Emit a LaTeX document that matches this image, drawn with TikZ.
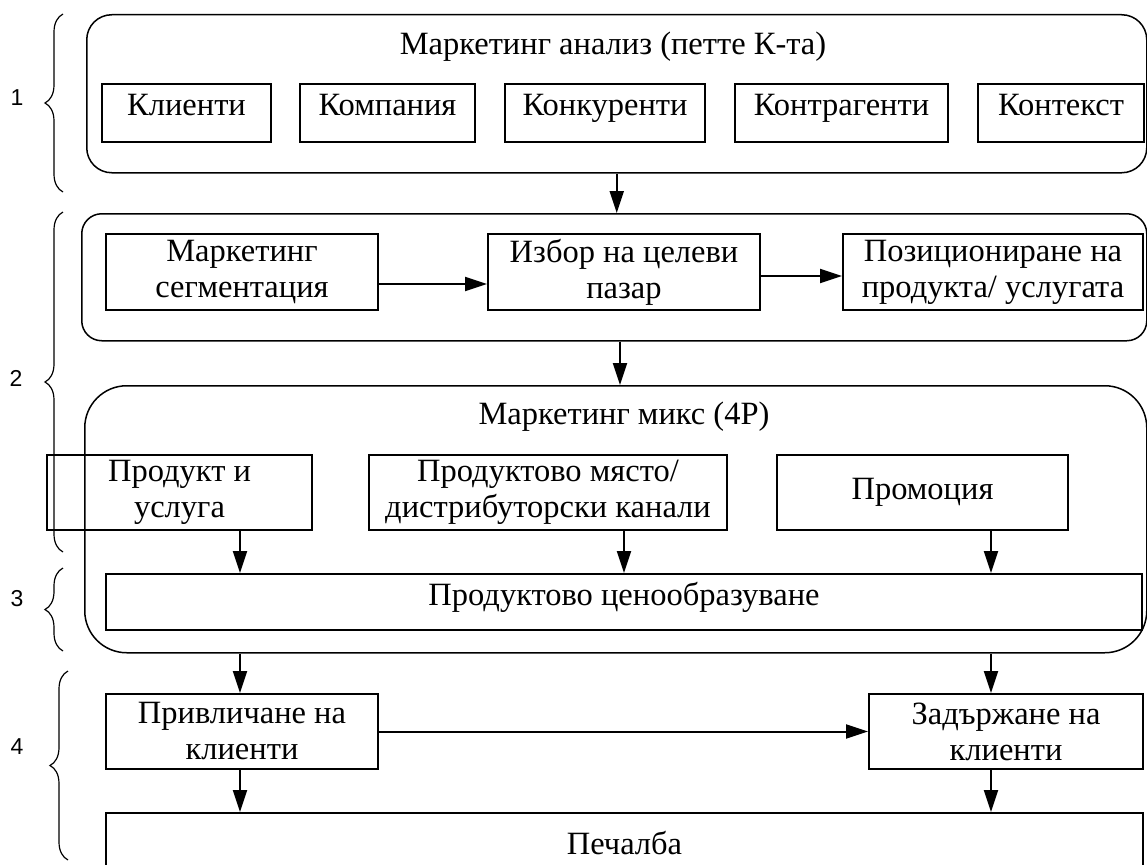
\documentclass[tikz,border=0pt]{standalone}
\usepackage{fontspec}
\setmainfont{Liberation Serif}
\newfontfamily\numfont{Liberation Sans}
\usetikzlibrary{arrows.meta, positioning, decorations.pathreplacing}

\tikzset{
  box/.style={draw, line width=2pt, inner sep=0pt, align=center, anchor=north west},
  hightext/.style={text height=22pt, text depth=16pt},
  group/.style={draw, line width=1.5pt, inner sep=0pt, anchor=north west},
  arr/.style={line width=2pt, -{Triangle[length=22pt, width=14pt]}},
  brace/.style={line width=1.2pt, decorate, decoration={brace, amplitude=18pt}},
  num/.style={font=\numfont\fontsize{23}{28}\selectfont}
}

\begin{document}
\begin{tikzpicture}[x=1pt, y=-1pt, font=\fontsize{32.5}{36}\selectfont]
  \useasboundingbox (0,0) rectangle (1147,864);

  % arrow columns
  \coordinate (c1) at (240,0);
  \coordinate (c2) at (620,0);
  \coordinate (c3) at (991,0);

  % Marketing analysis (5C)
  \node[group, rounded corners=25pt, minimum width=1060, minimum height=158] (analysis) at (86,14) {};
  \node[anchor=base] (analysistitle) at (613,55) {Маркетинг анализ (петте К-та)};
  \node[box, hightext, minimum width=169, minimum height=58] (clients) at (101,83) {Клиенти};
  \node[box, hightext, minimum width=175, minimum height=58] (company) at (299,83) {Компания};
  \node[box, hightext, minimum width=200, minimum height=58] (rivals) at (504,83) {Конкуренти};
  \node[box, hightext, minimum width=213, minimum height=58] (partners) at (734,83) {Контрагенти};
  \node[box, hightext, minimum width=166, minimum height=58] (context) at (977,83) {Контекст};

  % Segmentation, targeting, positioning
  \node[group, rounded corners=20pt, minimum width=1065, minimum height=127] (stp) at (81,213) {};
  \node[box, minimum width=272, minimum height=76] (seg) at (105,233) {Маркетинг\\сегментация};
  \node[box, minimum width=272, minimum height=76] (choice) at (487,233) {Избор на целеви\\пазар};
  \node[box, minimum width=300, minimum height=76] (pos) at (842,233) {Позициониране на\\продукта/ услугата};

  % Marketing mix (4P)
  \node[group, rounded corners=42pt, minimum width=1062, minimum height=267] (mix) at (84,385) {};
  \node[anchor=base] (mixtitle) at (624,424) {Маркетинг микс (4P)};
  \node[box, minimum width=265, minimum height=75] (prod) at (46,454) {Продукт и\\услуга};
  \node[box, minimum width=358, minimum height=75] (place) at (368,454) {Продуктово място/\\дистрибуторски канали};
  \node[box, minimum width=291, minimum height=75] (promo) at (776,454) {Промоция};
  \node[box, hightext, minimum width=1036, minimum height=56] (price) at (105,573) {Продуктово ценообразуване};

  % Clients and profit
  \node[box, minimum width=272, minimum height=75] (attract) at (105,693) {Привличане на\\клиенти};
  \node[box, minimum width=274, minimum height=75] (retain) at (868,693) {Задържане на\\клиенти};
  \node[box, text height=22pt, text depth=8pt, minimum width=1037, minimum height=68] (profit) at (105,812) {Печалба};

  % arrows
  \draw[arr] (analysis.south) -- (analysis.south |- stp.north);
  \draw[arr] ([yshift=-12pt]seg.east) -- ([yshift=-12pt]seg.east -| choice.west);
  \draw[arr] ([yshift=-4pt]choice.east) -- ([yshift=-4pt]choice.east -| pos.west);
  \draw[arr] (stp.south -| c2) -- (mix.north -| c2);
  \draw[arr] (prod.south -| c1) -- (price.north -| c1);
  \draw[arr] (place.south -| choice) -- (price.north -| choice);
  \draw[arr] (promo.south -| c3) -- (price.north -| c3);
  \draw[arr] (mix.south -| c1) -- (attract.north -| c1);
  \draw[arr] (mix.south -| c3) -- (retain.north -| c3);
  \draw[arr] (attract) -- (retain);
  \draw[arr] (attract.south -| c1) -- (profit.north -| c1);
  \draw[arr] (retain.south -| c3) -- (profit.north -| c3);

  % braces and stage numbers
  \draw[brace] (63,192) -- (63,14);
  \draw[brace] (63,552) -- (63,212);
  \draw[brace] (63,651) -- (63,568);
  \draw[brace] (68,860) -- (68,671);
  \node[num] (n1) at (17,98) {1};
  \node[num] (n2) at (16,378) {2};
  \node[num] (n3) at (17,599) {3};
  \node[num] (n4) at (17,747) {4};
\end{tikzpicture}
\end{document}
